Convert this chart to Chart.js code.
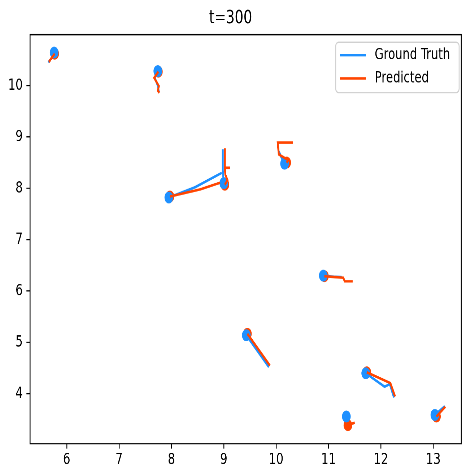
<!DOCTYPE html>
<html>
<head>
<meta charset="utf-8">
<script src="https://cdn.jsdelivr.net/npm/chart.js@4.4.1/dist/chart.umd.min.js"></script>
<style>
  html, body { margin: 0; padding: 0; background: #fff; overflow: hidden; }
  #wrap { width: 462px; height: 474px; overflow: hidden; position: relative; }
  /* the source figure was 640x480 and squeezed to 462x474 */
  #trajChart { position: absolute; left: 0; top: 0; transform-origin: 0 0; transform: scale(0.7219, 0.9875); }
</style>
</head>
<body>
<div id="wrap"><canvas id="trajChart" width="640" height="480"></canvas></div>
<script>
// ground truth tracks, first point = current position
const gtTracks = [
  [[5.76, 10.64], [5.70, 10.52], [5.65, 10.45]],
  [[7.74, 10.28], [7.68, 10.15], [7.74, 10.00], [7.76, 9.87]],
  [[7.95, 7.82], [8.45, 8.02], [8.96, 8.30]],
  [[9.00, 8.10], [8.98, 8.35], [8.98, 8.76]],
  [[10.16, 8.48], [10.10, 8.60], [10.05, 8.72]],
  [[10.90, 6.30], [11.10, 6.28], [11.25, 6.27]],
  [[9.43, 5.14], [9.86, 4.52]],
  [[11.71, 4.40], [12.07, 4.14], [12.17, 4.19], [12.25, 3.93]],
  [[11.34, 3.56], [11.36, 3.50]],
  [[13.03, 3.59], [13.22, 3.76]]
];

// predicted tracks
const predTracks = [
  [[5.77, 10.62], [5.70, 10.52], [5.66, 10.46]],
  [[7.75, 10.27], [7.67, 10.15], [7.76, 9.99], [7.74, 9.90], [7.77, 9.86]],
  [[7.97, 7.84], [8.55, 7.98], [8.93, 8.11]],
  [[9.02, 8.07], [9.07, 8.16], [9.03, 8.26], [9.02, 8.40], [9.12, 8.40], [9.02, 8.40], [9.02, 8.78]],
  [[10.20, 8.50], [10.23, 8.55], [10.05, 8.66], [10.03, 8.89], [10.32, 8.89]],
  [[10.92, 6.29], [11.28, 6.26], [11.31, 6.19], [11.46, 6.19]],
  [[9.45, 5.17], [9.88, 4.55]],
  [[11.73, 4.42], [12.18, 4.21], [12.27, 3.95]],
  [[11.37, 3.39], [11.50, 3.44]],
  [[13.06, 3.56], [13.23, 3.75]]
];

const seriesNames = ['Ground Truth', 'Predicted'];
const seriesColors = ['#1E90FF', '#FF4500'];
const xTicks = [6, 7, 8, 9, 10, 11, 12, 13];
const yTicks = [4, 5, 6, 7, 8, 9, 10];
const xRange = [5.3, 13.535];
const yRange = [3.03, 10.99];
const titleText = 't=300';

const FONT = "'DejaVu Sans', sans-serif";
const toPts = arr => arr.map(p => ({ x: p[0], y: p[1] }));

const datasets = [];
gtTracks.forEach(t => datasets.push({
  label: seriesNames[0], data: toPts(t), showLine: true,
  borderColor: seriesColors[0], borderWidth: 2.6, pointRadius: 0, order: 2
}));
predTracks.forEach(t => datasets.push({
  label: seriesNames[1], data: toPts(t), showLine: true,
  borderColor: seriesColors[1], borderWidth: 2.6, pointRadius: 0, order: 1
}));
datasets.push({
  label: 'gtNow', data: toPts(gtTracks.map(t => t[0])),
  backgroundColor: seriesColors[0], borderWidth: 0, pointRadius: 6, order: 3
});
datasets.push({
  label: 'predNow', data: toPts(predTracks.map(t => t[0])),
  backgroundColor: seriesColors[1], borderWidth: 0, pointRadius: 6, order: 4
});

// box round the plot + legend in the corner
const framePlugin = {
  id: 'frame',
  afterDraw(chart) {
    const { ctx, chartArea: a } = chart;
    ctx.save();
    ctx.strokeStyle = '#000';
    ctx.lineWidth = 1.3;
    ctx.strokeRect(a.left, a.top, a.right - a.left, a.bottom - a.top);

    const bw = 171, bh = 51;
    const bx = a.right - 3 - bw, by = a.top + 7.7;
    ctx.beginPath();
    ctx.roundRect(bx, by, bw, bh, 4);
    ctx.fillStyle = 'rgba(255,255,255,0.8)';
    ctx.fill();
    ctx.strokeStyle = '#d0d0d0';
    ctx.lineWidth = 1.3;
    ctx.stroke();

    ctx.font = '16px ' + FONT;
    ctx.textBaseline = 'middle';
    seriesNames.forEach((name, i) => {
      const y = by + 13 + i * 23.6;
      ctx.strokeStyle = seriesColors[i];
      ctx.lineWidth = 2.6;
      ctx.beginPath();
      ctx.moveTo(bx + 6, y);
      ctx.lineTo(bx + 42, y);
      ctx.stroke();
      ctx.fillStyle = '#000';
      ctx.fillText(name, bx + 54, y);
    });
    ctx.restore();
  }
};

new Chart(document.getElementById('trajChart').getContext('2d'), {
  type: 'scatter',
  data: { datasets: datasets },
  options: {
    responsive: false,
    animation: false,
    devicePixelRatio: 2,
    layout: { autoPadding: false, padding: { left: 0, right: 1, top: 0, bottom: 0 } },
    plugins: {
      legend: { display: false },
      tooltip: { enabled: false },
      title: {
        display: true,
        text: titleText,
        color: '#000',
        font: { family: FONT, size: 19, weight: 'normal' },
        padding: { top: 7, bottom: 5.3 }
      }
    },
    scales: {
      x: {
        type: 'linear',
        min: xRange[0], max: xRange[1],
        afterBuildTicks: s => { s.ticks = xTicks.map(v => ({ value: v })); },
        afterFit: s => { s.height = 30.7; s.paddingLeft = 0; s.paddingRight = 0; },
        border: { display: false },
        grid: { drawOnChartArea: false, drawTicks: true, tickLength: 5, tickColor: '#000', lineWidth: 1.2 },
        ticks: { color: '#000', padding: 2, maxRotation: 0, font: { family: FONT, size: 16 } }
      },
      y: {
        type: 'linear',
        min: yRange[0], max: yRange[1],
        afterBuildTicks: s => { s.ticks = yTicks.map(v => ({ value: v })); },
        afterFit: s => { s.width = 41.6; s.paddingTop = 0; s.paddingBottom = 0; },
        border: { display: false },
        grid: { drawOnChartArea: false, drawTicks: true, tickLength: 5, tickColor: '#000', lineWidth: 1.2 },
        ticks: { color: '#000', padding: 5, font: { family: FONT, size: 16 } }
      }
    }
  },
  plugins: [framePlugin]
});
</script>
</body>
</html>
